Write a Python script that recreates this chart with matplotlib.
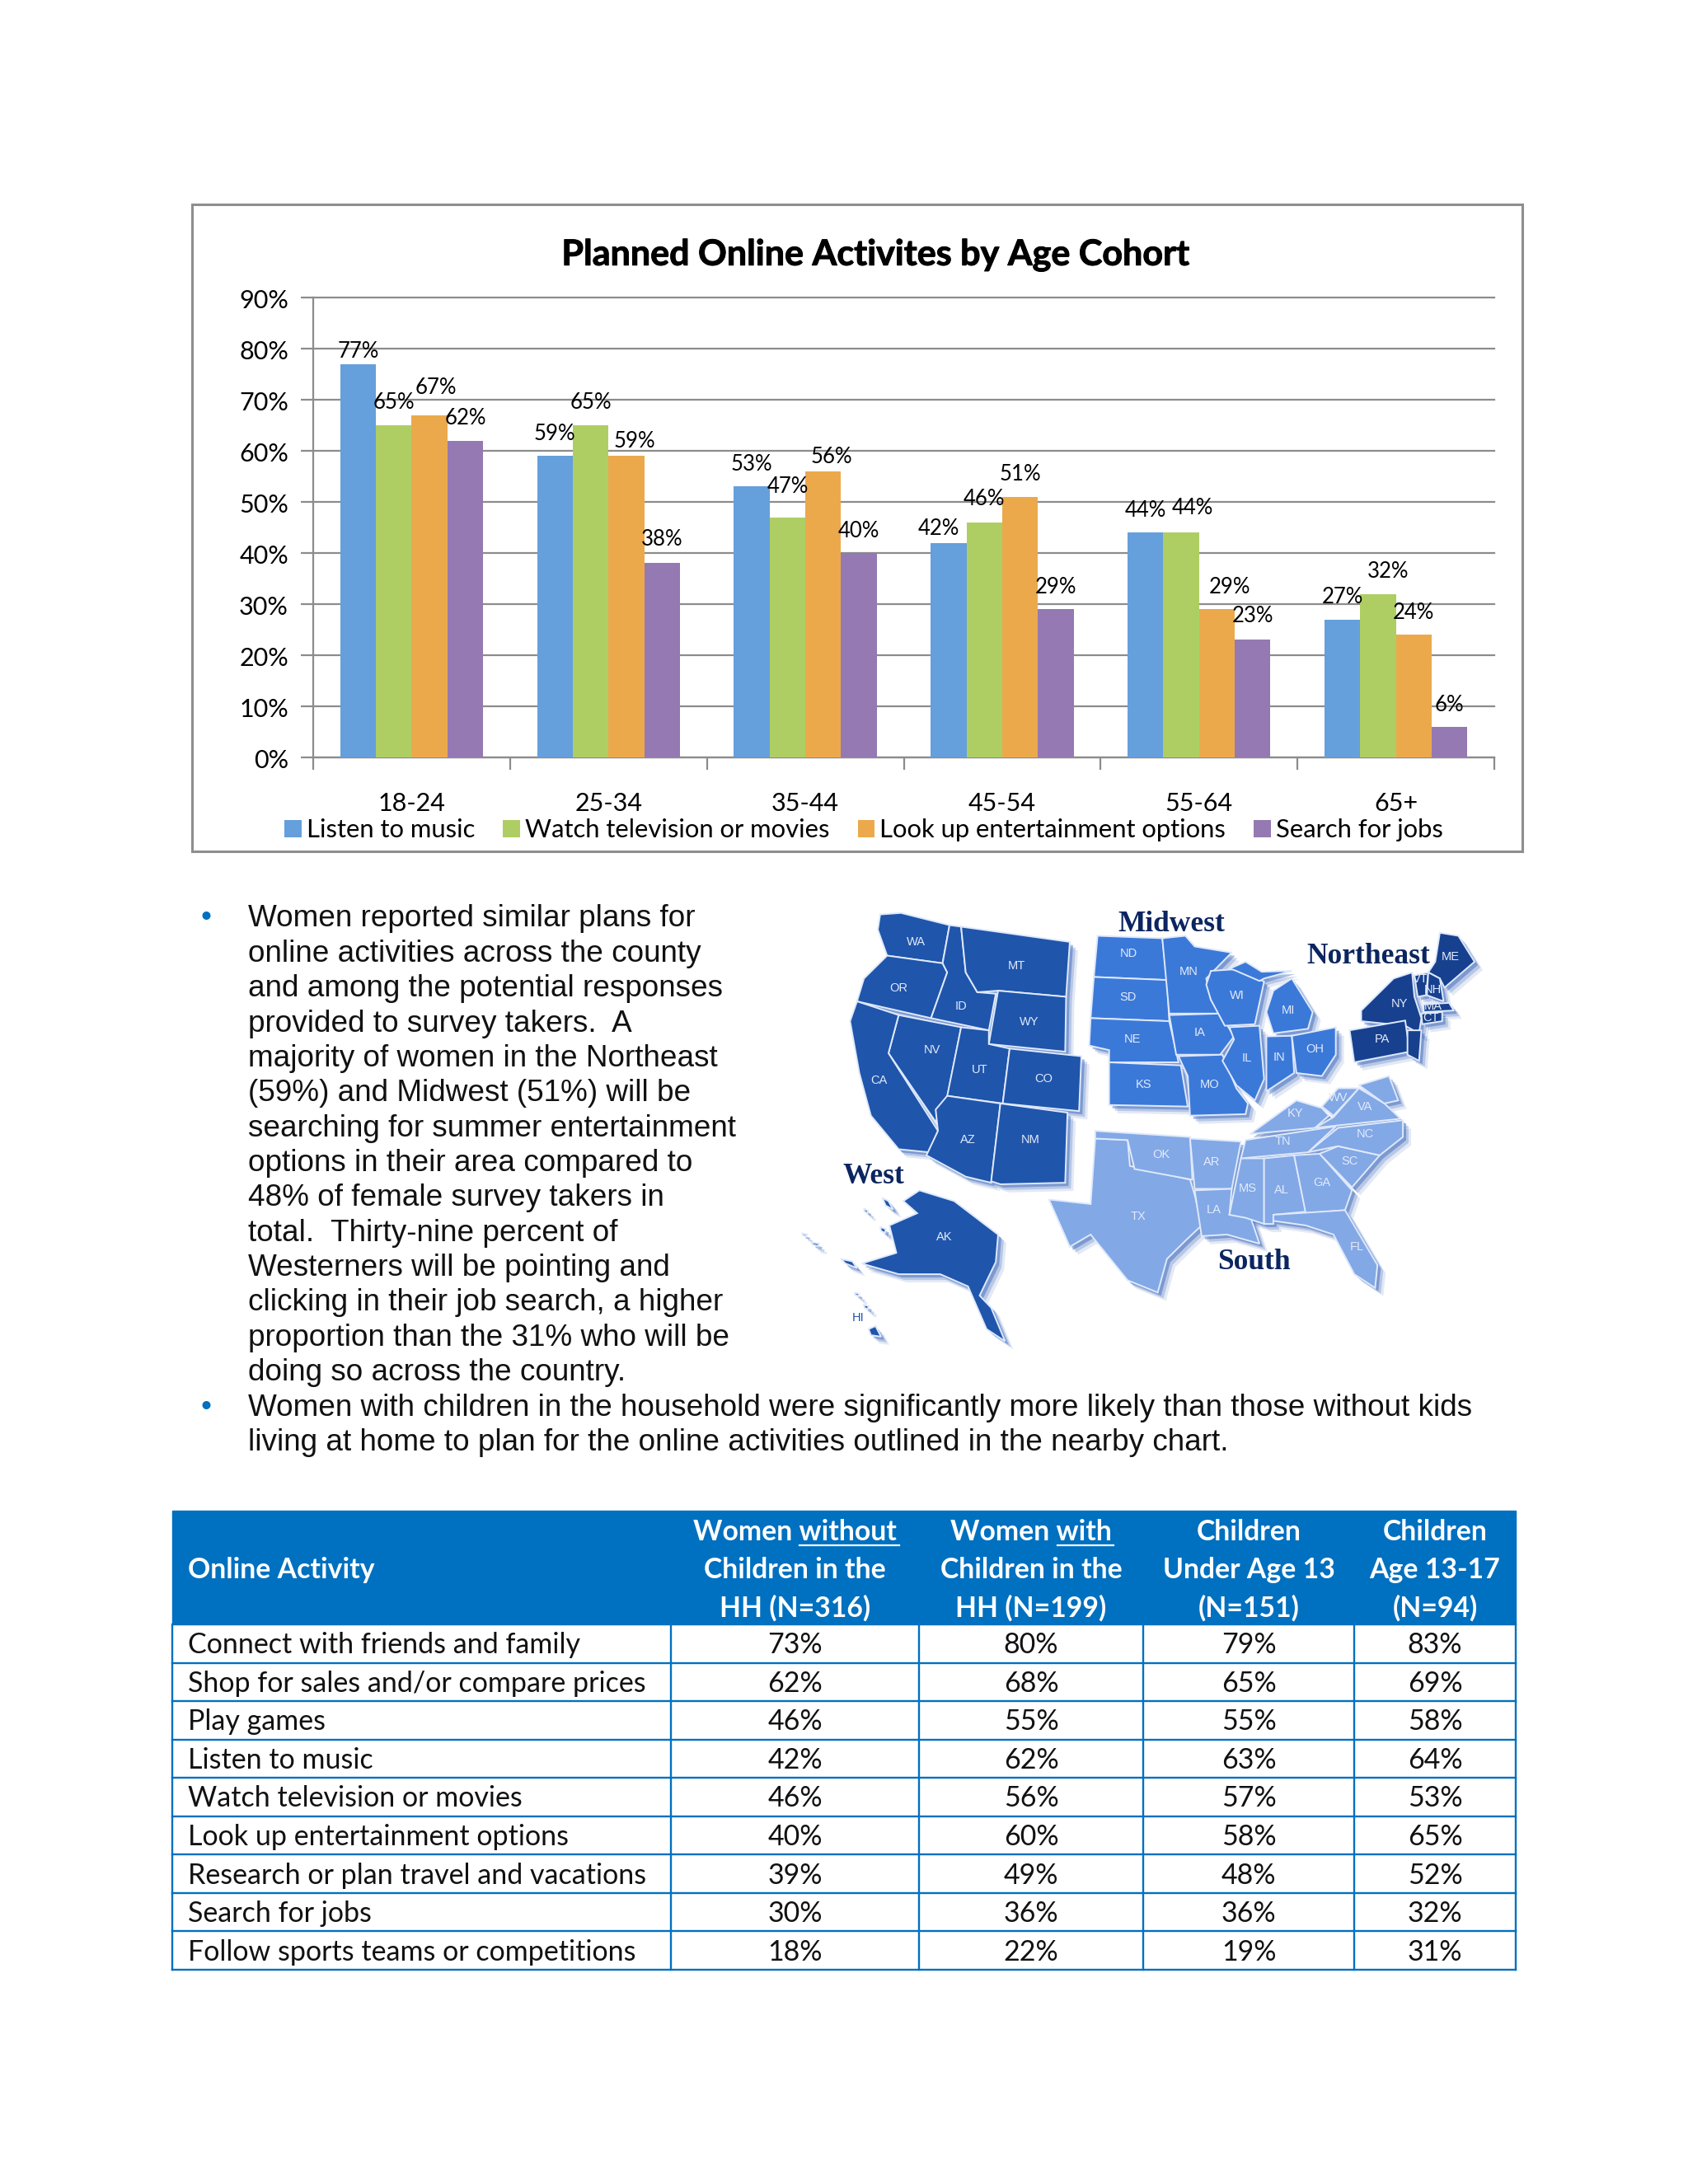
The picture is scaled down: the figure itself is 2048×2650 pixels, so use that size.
# Planned online activities page: bar chart, bullet text, region map, table
import matplotlib
matplotlib.use('Agg')
import matplotlib.pyplot as plt
import matplotlib.patheffects as pe
import numpy as np
from matplotlib.patches import Polygon, Rectangle

W, H = 2048, 2650
CHART_FONT = 'Lato'
BODY_FONT = 'Liberation Sans'

# chart data
cohorts = ['18-24', '25-34', '35-44', '45-54', '55-64', '65+']
music = [77, 59, 53, 42, 44, 27]
television = [65, 65, 47, 46, 44, 32]
entertainment = [67, 59, 56, 51, 29, 24]
jobs = [62, 38, 40, 29, 23, 6]
series_names = ['Listen to music', 'Watch television or movies',
                'Look up entertainment options', 'Search for jobs']
series_colors = ['#659fdc', '#aece64', '#eba94c', '#9579b2']

# hand placed data labels in the original, (dx, dy) from the bar top in pixels
label_offsets = [
    [(0, 15), (0, 28), (8, 33), (0, 27)],
    [(0, 27), (0, 27), (10, 18), (0, 29)],
    [(0, 27), (0, 37), (10, 17), (0, 27)],
    [(-12, 17), (0, 28), (0, 27), (0, 27)],
    [(0, 27), (14, 30), (16, 27), (0, 29)],
    [(0, 27), (12, 27), (0, 27), (0, 26)],
]

# bullet text
bullet_one = ['Women reported similar plans for',
              'online activities across the county',
              'and among the potential responses',
              'provided to survey takers.  A',
              'majority of women in the Northeast',
              '(59%) and Midwest (51%) will be',
              'searching for summer entertainment',
              'options in their area compared to',
              '48% of female survey takers in',
              'total.  Thirty-nine percent of',
              'Westerners will be pointing and',
              'clicking in their job search, a higher',
              'proportion than the 31% who will be',
              'doing so across the country.']
bullet_two = ['Women with children in the household were significantly more likely than those without kids',
              'living at home to plan for the online activities outlined in the nearby chart.']

# table data
table_head = [['Online Activity'],
              ['Women without', 'Children in the', 'HH (N=316)'],
              ['Women with', 'Children in the', 'HH (N=199)'],
              ['Children', 'Under Age 13', '(N=151)'],
              ['Children', 'Age 13-17', '(N=94)']]
activities = ['Connect with friends and family', 'Shop for sales and/or compare prices',
              'Play games', 'Listen to music', 'Watch television or movies',
              'Look up entertainment options', 'Research or plan travel and vacations',
              'Search for jobs', 'Follow sports teams or competitions']
without_kids = [73, 62, 46, 42, 46, 40, 39, 30, 18]
with_kids = [80, 68, 55, 62, 56, 60, 49, 36, 22]
under_13 = [79, 65, 55, 63, 57, 58, 48, 36, 19]
age_13_17 = [83, 69, 58, 64, 53, 65, 52, 32, 31]

# rough state outlines of the map picture, in a 0-1568 box
west = {
    'WA': [(210, 80), (255, 75), (360, 115), (345, 240), (225, 215), (205, 130)],
    'OR': [(225, 215), (345, 240), (355, 270), (320, 420), (160, 365), (175, 290)],
    'ID': [(360, 115), (385, 120), (395, 270), (420, 335), (460, 340), (445, 460), (320, 420), (355, 270), (345, 240)],
    'MT': [(385, 120), (620, 170), (612, 350), (465, 330), (420, 335), (395, 270)],
    'WY': [(465, 330), (612, 350), (610, 530), (445, 505)],
    'NV': [(250, 410), (385, 450), (355, 680), (330, 760), (228, 535)],
    'CA': [(160, 365), (250, 410), (228, 535), (335, 790), (315, 860), (250, 850), (190, 740), (165, 600), (145, 430)],
    'UT': [(385, 450), (445, 460), (445, 505), (490, 520), (475, 700), (355, 675)],
    'CO': [(490, 520), (645, 545), (640, 725), (475, 700)],
    'AZ': [(355, 675), (470, 700), (450, 960), (395, 940), (310, 870), (335, 790), (330, 720)],
    'NM': [(470, 700), (615, 730), (610, 960), (470, 965), (450, 955)],
    'AK': [(295, 985), (370, 1020), (465, 1130), (460, 1220), (425, 1330), (450, 1370), (480, 1480), (440, 1440),
           (400, 1300), (340, 1260), (250, 1260), (170, 1225), (245, 1190), (230, 1100), (290, 1060), (260, 1020)],
    'HI': [(185, 1440), (200, 1430), (212, 1465), (190, 1460)],
    'i1': [(125, 1210), (150, 1218), (160, 1240), (135, 1225)],
    'i2': [(215, 1010), (228, 1020), (238, 1048), (222, 1035)],
    'i3': [(62, 1155), (78, 1160), (76, 1168), (64, 1163)],
    'i4': [(42, 1126), (52, 1130), (50, 1136), (42, 1132)],
    'i5': [(210, 1105), (222, 1112), (220, 1125), (212, 1118)],
    'i6': [(175, 1045), (184, 1052), (182, 1060), (176, 1054)],
    'i7': [(155, 1320), (165, 1325), (163, 1332), (156, 1328)],
    'i8': [(175, 1360), (185, 1365), (183, 1375), (176, 1370)],
}
midwest = {
    'ND': [(680, 150), (820, 158), (830, 295), (672, 285)],
    'SD': [(672, 285), (830, 295), (835, 430), (665, 420)],
    'NE': [(665, 420), (835, 430), (855, 565), (705, 565), (705, 525), (662, 510)],
    'KS': [(705, 565), (860, 575), (875, 710), (705, 705)],
    'MN': [(820, 158), (870, 150), (890, 185), (970, 205), (915, 290), (925, 360), (945, 405), (835, 405)],
    'IA': [(835, 410), (945, 405), (975, 480), (945, 540), (850, 540)],
    'MO': [(855, 545), (950, 540), (980, 650), (1005, 700), (1000, 735), (880, 740), (875, 610)],
    'WI': [(925, 265), (975, 260), (1040, 300), (1020, 440), (955, 445), (925, 360), (915, 310)],
    'MI': [(1060, 330), (1100, 290), (1145, 400), (1135, 455), (1060, 470), (1045, 400)],
    'up': [(965, 258), (1000, 235), (1035, 268), (1100, 265), (1040, 290), (1030, 298), (975, 262)],
    'IL': [(965, 450), (1030, 445), (1040, 620), (1020, 690), (980, 640), (950, 560), (975, 490)],
    'IN': [(1045, 480), (1100, 478), (1105, 600), (1045, 660)],
    'OH': [(1100, 478), (1195, 450), (1195, 540), (1165, 610), (1110, 600)],
}
northeast = {
    'NY': [(1360, 270), (1365, 350), (1380, 420), (1375, 470), (1345, 445), (1250, 430), (1250, 395), (1320, 290)],
    'PA': [(1225, 460), (1345, 428), (1355, 530), (1235, 565)],
    'ME': [(1420, 140), (1460, 150), (1495, 235), (1430, 320), (1420, 290), (1395, 270), (1410, 235)],
    'VT': [(1365, 280), (1395, 270), (1390, 345), (1372, 350)],
    'NH': [(1395, 270), (1420, 290), (1428, 365), (1392, 345)],
    'MA': [(1385, 375), (1440, 370), (1450, 395), (1385, 400)],
    'CT': [(1380, 405), (1425, 400), (1425, 430), (1382, 440)],
    'NJ': [(1350, 460), (1380, 460), (1375, 560), (1350, 540)],
}
south = {
    'TX': [(675, 815), (745, 820), (750, 905), (880, 950), (890, 1000), (905, 1100), (870, 1150), (830, 1210),
           (810, 1320), (745, 1280), (665, 1130), (620, 1170), (575, 1015), (665, 1030)],
    'OK': [(675, 790), (880, 810), (885, 950), (760, 915), (745, 820), (675, 815)],
    'AR': [(880, 815), (990, 825), (970, 980), (890, 980)],
    'LA': [(890, 985), (970, 980), (965, 1065), (1010, 1070), (1030, 1160), (960, 1130), (905, 1135)],
    'MS': [(990, 880), (1040, 880), (1040, 1095), (1000, 1075), (965, 1065)],
    'AL': [(1040, 880), (1105, 870), (1130, 1055), (1060, 1065), (1060, 1095), (1040, 1095)],
    'GA': [(1105, 870), (1160, 865), (1230, 985), (1215, 1050), (1130, 1060)],
    'FL': [(1060, 1065), (1215, 1050), (1285, 1230), (1280, 1305), (1235, 1260), (1190, 1130), (1130, 1100), (1060, 1085)],
    'SC': [(1160, 865), (1200, 840), (1290, 870), (1230, 975)],
    'NC': [(1135, 860), (1200, 780), (1340, 755), (1340, 810), (1290, 870), (1200, 840)],
    'TN': [(1000, 820), (1195, 775), (1135, 860), (990, 880)],
    'KY': [(1010, 800), (1110, 690), (1165, 715), (1180, 740), (1150, 780)],
    'WV': [(1165, 710), (1200, 650), (1245, 650), (1190, 740)],
    'VA': [(1150, 780), (1190, 745), (1245, 650), (1300, 700), (1335, 750)],
    'md': [(1245, 640), (1310, 610), (1330, 690), (1300, 700)],
}
state_labels = {
    'WA': (288, 170), 'OR': (250, 322), 'ID': (385, 382), 'MT': (505, 248), 'WY': (533, 433), 'NV': (322, 525),
    'CA': (208, 625), 'UT': (425, 590), 'CO': (563, 620), 'AZ': (400, 820), 'NM': (535, 820), 'AK': (348, 1137),
    'ND': (748, 208), 'SD': (745, 352), 'NE': (755, 490), 'KS': (780, 638), 'MN': (877, 268), 'IA': (900, 468),
    'MO': (922, 638), 'WI': (982, 347), 'MI': (1092, 395), 'IL': (1003, 552), 'IN': (1073, 550), 'OH': (1150, 522),
    'NY': (1333, 372), 'PA': (1295, 490), 'ME': (1442, 218), 'VT': (1378, 292), 'NH': (1405, 328), 'MA': (1405, 382),
    'CT': (1400, 418), 'TX': (768, 1070), 'OK': (818, 868), 'AR': (926, 893), 'LA': (932, 1050), 'MS': (1005, 980),
    'AL': (1077, 983), 'GA': (1165, 960), 'FL': (1240, 1170), 'SC': (1225, 890), 'NC': (1258, 800), 'TN': (1080, 825),
    'KY': (1108, 733), 'WV': (1200, 680), 'VA': (1258, 712),
}
region_labels = [('Midwest', 840, 105), ('Northeast', 1265, 210), ('West', 195, 930), ('South', 1018, 1212)]


def px_axes(fig, left, top, right, bottom):
    return fig.add_axes([left / W, 1 - bottom / H, (right - left) / W, (bottom - top) / H])


def map_xy(pt):
    return 950 + pt[0] * 880 / 1568, 1080 + pt[1] * 580 / 1568


def draw_bars(fig, page):
    page.add_patch(Rectangle((233, 248), 1614, 785, fc='white', ec='#8e8e8e', lw=2.2))
    page.text(1062, 309, 'Planned Online Activites by Age Cohort', fontsize=31, fontweight='bold',
              family=CHART_FONT, ha='center', va='center', color='black',
              path_effects=[pe.withStroke(linewidth=0.7, foreground='black')])

    ax = px_axes(fig, 380, 361, 1813, 919)
    ax.patch.set_alpha(0)
    x = np.arange(len(cohorts))
    width = 0.1815
    values = [music, television, entertainment, jobs]
    bars = []
    for s, vals in enumerate(values):
        b = ax.bar(x + (s - 1.5) * width, vals, width, color=series_colors[s],
                   label=series_names[s], zorder=3)
        bars.append(b)
        for i, v in enumerate(vals):
            dx, dy = label_offsets[i][s]
            ax.annotate(str(v) + '%', (x[i] + (s - 1.5) * width, v), xytext=(dx * 0.72, dy * 0.72),
                        textcoords='offset points', ha='center', va='center',
                        fontsize=18.5, family=CHART_FONT, zorder=5)

    ax.set_xlim(-0.5, 5.5)
    ax.set_ylim(0, 90)
    ax.set_yticks(range(0, 91, 10))
    ax.set_yticklabels([])
    # tick labels sit a little below their gridlines in the original
    for t in range(0, 91, 10):
        ax.annotate(str(t) + '%', (-0.5, t), xytext=(-30 * 0.72, -4 * 0.72), textcoords='offset points',
                    ha='right', va='center', family=CHART_FONT, fontsize=22, annotation_clip=False)
    ax.set_xticks(list(x - 0.5) + [5.5])
    ax.set_xticklabels([])
    ax.grid(axis='y', color='#8c8c8c', lw=1.6, zorder=1, clip_on=False)
    ax.tick_params(axis='y', length=11, width=1.6, color='#8c8c8c')
    ax.tick_params(axis='x', length=11, width=1.6, color='#8c8c8c')
    for side in ['top', 'right']:
        ax.spines[side].set_visible(False)
    for side in ['left', 'bottom']:
        ax.spines[side].set_color('#8c8c8c')
        ax.spines[side].set_linewidth(1.6)
    for i, c in enumerate(cohorts):
        ax.annotate(c, (x[i], 0), xytext=(0, -56 * 0.72), textcoords='offset points',
                    ha='center', va='center', family=CHART_FONT, fontsize=22)

    fig.legend(handles=[b[0] for b in bars], labels=series_names, ncol=4, frameon=False,
               loc='center', bbox_to_anchor=(1048 / W, 1 - 1007 / H), handlelength=0.66, handleheight=0.66,
               handletextpad=0.2, columnspacing=1.1, prop={'family': CHART_FONT, 'size': 22.3})


def draw_text(page):
    size = 26.6
    step = 42.35
    page.text(250, 1114, '•', fontsize=size, family=BODY_FONT, color='#0070c0', ha='center', va='center')
    for k, line in enumerate(bullet_one):
        page.text(301, 1115 + k * step, line, fontsize=size, family=BODY_FONT, va='center', color='#111111')
    page.text(250, 1707, '•', fontsize=size, family=BODY_FONT, color='#0070c0', ha='center', va='center')
    for k, line in enumerate(bullet_two):
        page.text(301, 1708 + k * step, line, fontsize=size, family=BODY_FONT, va='center', color='#111111')


def draw_map(page):
    groups = [(west, '#1f55ab'), (midwest, '#3b79d9'), (northeast, '#17418f'), (south, '#82a8e6')]
    # soft shadow first, so it stays under every state
    for states, _ in groups:
        for pts in states.values():
            xy = [map_xy(p) for p in pts]
            for off, alpha in [(10, 0.12), (7, 0.22), (4, 0.38)]:
                page.add_patch(Polygon([(a + off, b + off) for a, b in xy], fc='#1d50b0', ec='none', alpha=alpha, zorder=4))
    for states, color in groups:
        for name, pts in states.items():
            xy = [map_xy(p) for p in pts]
            page.add_patch(Polygon(xy, fc=color, ec='#dfe9fb', lw=1.4, zorder=5))
            if name in state_labels:
                lx, ly = map_xy(state_labels[name])
                page.text(lx, ly, name, fontsize=10.5, color='#e3ebfa', ha='center', va='center', zorder=6,
                          family=BODY_FONT)
    hx, hy = map_xy((163, 1403))
    page.text(hx, hy, 'HI', fontsize=10.5, color='#1f55ab', ha='center', va='center', family=BODY_FONT)
    for name, mx, my in region_labels:
        tx, ty = map_xy((mx, my))
        page.text(tx, ty + 3, name, fontsize=25.5, fontweight='bold', family='Liberation Serif', color='#0b2560',
                  ha='center', va='center', zorder=7)


def draw_table(page):
    col_x = [209, 814, 1115, 1387, 1643, 1839]
    top, head_bottom, row_h = 1833, 1971, 46.55
    blue = '#0070c0'
    page.add_patch(Rectangle((col_x[0], top), col_x[-1] - col_x[0], head_bottom - top, fc=blue, ec=blue, lw=1))
    size = 24.5
    page.text(228, 1905, table_head[0][0], color='white', fontweight='bold', fontsize=24.3, family=CHART_FONT, va='center')
    for c in range(1, 5):
        mid = (col_x[c] + col_x[c + 1]) / 2
        for k, line in enumerate(table_head[c]):
            page.text(mid, 1859 + k * 46, line, color='white', fontweight='bold', fontsize=24.3, family=CHART_FONT,
                      ha='center', va='center')
    # underlined words in the first header line
    page.plot([970, 1091], [1875, 1875], color='white', lw=1.6)
    page.plot([1283, 1351], [1875, 1875], color='white', lw=1.6)

    columns = [without_kids, with_kids, under_13, age_13_17]
    bottom = head_bottom + row_h * len(activities)
    for r, name in enumerate(activities):
        y = head_bottom + r * row_h + row_h / 2
        page.text(228, y + 2, name, fontsize=size, family=CHART_FONT, va='center', color='#111111')
        for c, col in enumerate(columns):
            mid = (col_x[c + 1] + col_x[c + 2]) / 2
            page.text(mid, y + 2, str(col[r]) + '%', fontsize=size, family=CHART_FONT, ha='center', va='center', color='#111111')
        page.plot([col_x[0], col_x[-1]], [y + row_h / 2] * 2, color=blue, lw=1.7)
    for cx in col_x:
        page.plot([cx, cx], [head_bottom, bottom], color=blue, lw=1.7)


if __name__ == '__main__':
    fig = plt.figure(figsize=(W / 100, H / 100), dpi=100, facecolor='white')
    page = fig.add_axes([0, 0, 1, 1])
    page.set_xlim(0, W)
    page.set_ylim(H, 0)
    page.axis('off')
    draw_bars(fig, page)
    draw_text(page)
    draw_map(page)
    draw_table(page)
    fig.savefig('out.png', dpi=100)
